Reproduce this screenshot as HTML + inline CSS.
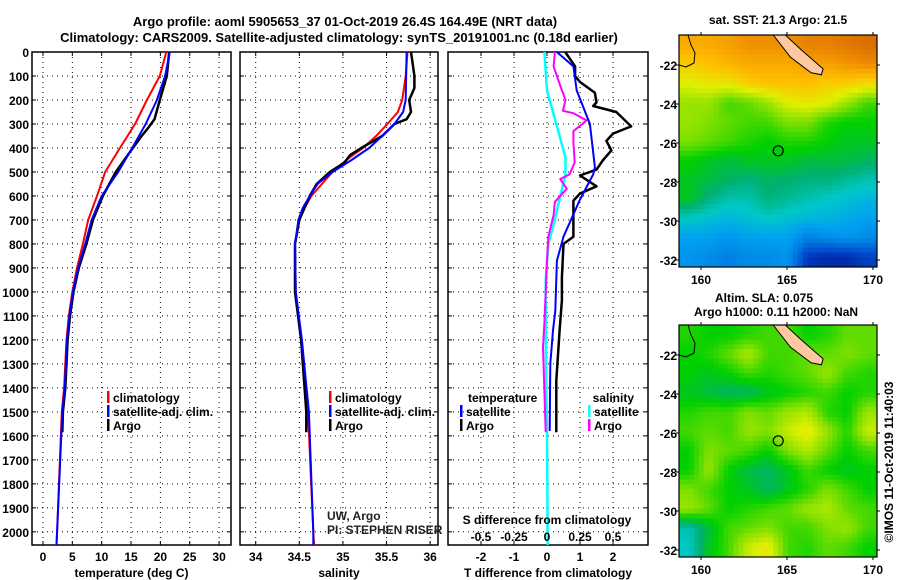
<!DOCTYPE html>
<html><head><meta charset="utf-8"><style>
html,body{margin:0;padding:0;background:#fff;}
svg{display:block;font-family:"Liberation Sans",Arial,sans-serif;}
.b{font-weight:bold;font-size:13px;}
.t{font-weight:bold;font-size:12px;}
</style></head><body>
<svg id="fig" width="900" height="580" viewBox="0 0 900 580" xmlns="http://www.w3.org/2000/svg">
<text class="b" x="345" y="26" text-anchor="middle">Argo profile: aoml 5905653_37 01-Oct-2019 26.4S 164.49E (NRT data)</text>
<text class="b" x="339" y="42" text-anchor="middle">Climatology: CARS2009. Satellite-adjusted climatology: synTS_20191001.nc (0.18d earlier)</text>
<g id="layer"></g>
</svg>
<script>
// ---------- data ----------
const tClimDepth = [0,100,200,300,400,500,600,700,800,900,1000,1100,1200,1400,1500,2000,2055];
const tClimVal   = [21.0,19.9,17.7,15.7,13.1,10.6,9.2,7.7,6.8,5.8,5.0,4.4,4.0,3.6,3.2,2.4,2.3];
const tSatDepth  = [0,100,200,300,400,500,600,700,800,900,1000,1100,1200,1400,1500,2000,2055];
const tSatVal    = [21.6,20.8,19.4,17.5,15.2,12.8,10.0,8.3,7.2,6.0,5.1,4.5,4.1,3.7,3.3,2.4,2.3];
const tArgoDepth = [0,100,200,280,320,350,400,500,600,700,800,900,1000,1100,1200,1400,1500,1585];
const tArgoVal   = [21.5,21.1,19.9,19.0,17.8,16.8,15.3,12.4,10.2,8.5,7.4,6.1,5.2,4.6,4.2,3.8,3.4,3.3];

const sClimDepth = [0,100,200,250,300,350,400,450,500,550,600,650,700,800,1000,1200,1500,2000,2055];
const sClimVal   = [35.74,35.72,35.68,35.63,35.51,35.38,35.23,35.04,34.88,34.76,34.64,34.56,34.50,34.45,34.46,34.52,34.60,34.66,34.67];
const sSatDepth  = [0,200,250,300,350,400,450,500,550,600,650,700,800,1000,1200,1500,2000,2055];
const sSatVal    = [35.73,35.72,35.69,35.59,35.45,35.30,35.10,34.88,34.71,34.62,34.54,34.49,34.45,34.46,34.53,34.61,34.66,34.66];
const sArgoDepth = [0,100,150,200,250,280,300,350,400,430,460,500,550,600,700,800,1000,1200,1500,1585];
const sArgoVal   = [35.78,35.82,35.82,35.76,35.78,35.73,35.59,35.45,35.21,35.08,35.02,34.85,34.70,34.62,34.50,34.45,34.45,34.52,34.58,34.58];

const dTSatDepth = [0,60,160,300,480,510,615,770,870,1080,1160,1300,1580];
const dTSatVal   = [0.3,0.8,0.9,1.3,1.45,1.4,1.0,0.5,0.3,0.25,0.18,0.1,0.08];
const dTArgoDepth= [0,60,100,125,170,210,225,250,310,340,370,410,450,490,515,560,590,620,700,770,800,940,1035,1160,1370,1585];
const dTArgoVal  = [0.55,0.85,0.85,1.0,1.45,1.5,1.4,2.1,2.55,2.0,1.8,1.95,1.7,1.5,1.0,1.5,1.0,0.8,0.8,0.8,0.5,0.45,0.45,0.38,0.28,0.28];
const dSArgoDepth= [0,60,140,200,245,255,285,330,375,460,510,530,570,625,680,770,870,1130,1230,1585];
const dSArgoVal  = [0.06,0.05,0.1,0.14,0.12,0.2,0.3,0.2,0.2,0.21,0.17,0.1,0.15,0.06,0.05,0.01,0.0,-0.02,-0.03,-0.01];
const dSSatDepth = [0,160,300,440,510,580,720,800,950,1200,1600,2055];
const dSSatVal   = [-0.02,0.0,0.07,0.14,0.14,0.11,0.05,0.01,-0.01,-0.01,0.0,0.005];

const tTicks=[0,5,10,15,20,25,30];
const sTicks=[34,34.5,35,35.5,36];
const dTTicks=[-2,-1,0,1,2];
const dSTicks=[-0.5,-0.25,0,0.25,0.5];
const dSTickLabels=['-0.5','-0.25','0','0.25','0.5'];
const depthTicks=[0,100,200,300,400,500,600,700,800,900,1000,1100,1200,1300,1400,1500,1600,1700,1800,1900,2000];

const sstGrid=[
[.80,.80,.82,.85,.85,.85,.88,.88,.90,.92],
[.74,.76,.78,.80,.80,.80,.82,.82,.84,.86],
[.68,.70,.70,.74,.76,.76,.76,.74,.74,.72],
[.62,.62,.56,.58,.62,.68,.70,.68,.62,.56],
[.62,.60,.58,.56,.56,.60,.60,.54,.52,.52],
[.60,.58,.56,.54,.52,.54,.54,.52,.50,.50],
[.52,.50,.48,.50,.50,.50,.48,.48,.48,.46],
[.50,.48,.46,.44,.46,.45,.44,.44,.42,.40],
[.50,.44,.40,.40,.44,.42,.40,.38,.36,.34],
[.38,.36,.34,.36,.38,.36,.34,.34,.32,.30],
[.30,.30,.28,.30,.30,.30,.24,.26,.28,.26],
[.28,.26,.24,.26,.26,.28,.10,.08,.08,.12]];
const slaGrid=[
[.54,.52,.52,.54,.56,.56,.52,.54,.58,.58],
[.52,.54,.58,.64,.56,.56,.58,.58,.60,.58],
[.52,.50,.52,.56,.54,.56,.58,.62,.56,.54],
[.50,.48,.46,.46,.50,.52,.54,.56,.52,.54],
[.54,.56,.56,.60,.58,.62,.64,.54,.52,.62],
[.56,.58,.56,.62,.60,.66,.70,.62,.54,.66],
[.52,.60,.58,.56,.52,.60,.64,.58,.52,.56],
[.52,.62,.52,.48,.46,.50,.56,.52,.50,.52],
[.60,.56,.52,.50,.46,.50,.54,.60,.56,.52],
[.62,.58,.52,.54,.56,.58,.62,.64,.58,.56],
[.40,.48,.56,.58,.60,.56,.56,.60,.62,.56],
[.38,.50,.56,.66,.70,.56,.54,.58,.56,.52]];
const lonTicks=[160,165,170];
const latTicks=[-22,-24,-26,-28,-30,-32];

// ---------- helpers ----------
const NS='http://www.w3.org/2000/svg';
const L=document.getElementById('layer');
function mk(tag,attrs,parent){const e=document.createElementNS(NS,tag);for(const k in attrs)e.setAttribute(k,attrs[k]);(parent||L).appendChild(e);return e;}
function txt(s,x,y,cls,anchor,parent){const e=mk('text',{x:x,y:y,'class':cls||'t','text-anchor':anchor||'start'},parent);e.textContent=s;return e;}

const Y0=52,Y1=545,D0=0,D1=2055;
function yD(d){return Y0+(d-D0)/(D1-D0)*(Y1-Y0);}
const P1={x0:32,x1:231,v0:-1.87,v1:32.03};
const P2={x0:240,x1:438,v0:33.82,v1:36.09};
const P3={x0:448,x1:648,v0:-3.0,v1:3.06};
function sx(p,v){return p.x0+(v-p.v0)/(p.v1-p.v0)*(p.x1-p.x0);}
function sxS(v){return sx(P3,v*4);}

function frame(p,name,ticks,labels,xt){
  const g=mk('g',{});
  
  
  ticks.forEach(v=>{const x=sx(p,v);mk('line',{x1:x,x2:x,y1:Y0,y2:Y1,stroke:'#000','stroke-width':1,'stroke-dasharray':'1,4'},g);
    mk('line',{x1:x,x2:x,y1:Y1,y2:Y1-4,stroke:'#000'},g);mk('line',{x1:x,x2:x,y1:Y0,y2:Y0+4,stroke:'#000'},g);});
  depthTicks.forEach(d=>{const y=yD(d);mk('line',{x1:p.x0,x2:p.x1,y1:y,y2:y,stroke:'#000','stroke-width':1,'stroke-dasharray':'1,4'},g);
    mk('line',{x1:p.x0,x2:p.x0+4,y1:y,y2:y,stroke:'#000'},g);mk('line',{x1:p.x1-4,x2:p.x1,y1:y,y2:y,stroke:'#000'},g);});
  mk('rect',{x:p.x0,y:Y0,width:p.x1-p.x0,height:Y1-Y0,fill:'none',stroke:'#000','stroke-width':1.5},g);
  labels.forEach((s,i)=>{const t=txt(s,sx(p,ticks[i]),561,'t','middle',g);});
  const tt=txt(xt,(p.x0+p.x1)/2,577,'t','middle',g);
  
  
  return g;
}
function line(p,ds,vs,color,w,name,fx){
  const pts=ds.map((d,i)=>(fx?fx(vs[i]):sx(p,vs[i])).toFixed(1)+','+yD(d).toFixed(1)).join(' ');
  const e=mk('polyline',{points:pts,fill:'none',stroke:color,'stroke-width':w,'stroke-linejoin':'round'});
  
  
}
function legend(x,y,color,label,name){
  const g=mk('g',{});
  
  
  mk('rect',{x:x,y:y-6,width:2.5,height:12,fill:color},g);
  txt(label,x+6,y+5,'t','start',g);
}

// panel 1
frame(P1,'temperature-panel',tTicks,tTicks.map(String),'temperature (deg C)');
depthTicks.forEach(d=>{const t=txt(String(d),29,yD(d)+5,'t','end');});
line(P1,tClimDepth,tClimVal,'#ff0000',2,'temperature-climatology-line');
line(P1,tArgoDepth,tArgoVal,'#000',2.5,'temperature-argo-line');
line(P1,tSatDepth,tSatVal,'#0000ff',2,'temperature-satellite-line');
legend(107,397,'#ff0000','climatology','legend-climatology');
legend(107,411,'#0000ff','satellite-adj. clim.','legend-satellite-adj');
legend(107,425,'#000','Argo','legend-argo');

// panel 2
frame(P2,'salinity-panel',sTicks,['34','34.5','35','35.5','36'],'salinity');
line(P2,sClimDepth,sClimVal,'#ff0000',2,'salinity-climatology-line');
line(P2,sArgoDepth,sArgoVal,'#000',2.5,'salinity-argo-line');
line(P2,sSatDepth,sSatVal,'#0000ff',2,'salinity-satellite-line');
legend(329,397,'#ff0000','climatology','legend-climatology-s');
legend(329,411,'#0000ff','satellite-adj. clim.','legend-satellite-adj-s');
legend(329,425,'#000','Argo','legend-argo-s');
{const a=txt('UW, Argo',327,520,'','start');a.setAttribute('style','font-size:12px;fill:#222');
 const b=txt('PI: STEPHEN RISER',327,534,'','start');b.setAttribute('style','font-size:12px;fill:#222');}

// panel 3
frame(P3,'difference-panel',dTTicks,dTTicks.map(String),'T difference from climatology');
line(P3,dSSatDepth,dSSatVal,'#00ffff',2.5,'salinity-satellite-diff-line',sxS);
line(P3,dSArgoDepth,dSArgoVal,'#ff00ff',2,'salinity-argo-diff-line',sxS);
line(P3,dTArgoDepth,dTArgoVal,'#000',2.5,'temperature-argo-diff-line');
line(P3,dTSatDepth,dTSatVal,'#0000ff',2,'temperature-satellite-diff-line');
dSTicks.forEach((v,i)=>{const t=txt(dSTickLabels[i],sxS(v),541,'t','middle');});
{const t=txt('S difference from climatology',547,524,'t','middle');}
{const t=txt('temperature',468,402,'t','start');
 const s=txt('salinity',634,402,'t','end');}
legend(460,411,'#0000ff','satellite','legend-t-satellite');
legend(460,425,'#000','Argo','legend-t-argo');
legend(588,411,'#00ffff','satellite','legend-s-satellite');
legend(588,425,'#ff00ff','Argo','legend-s-argo');

// ---------- maps ----------
const cstops=[[0,[0,0,127]],[0.15,[0,80,208]],[0.3,[0,160,240]],[0.38,[0,200,200]],[0.45,[0,176,112]],[0.52,[0,208,0]],[0.6,[128,224,0]],[0.68,[224,240,0]],[0.76,[255,192,0]],[0.85,[240,144,0]],[0.95,[208,96,0]],[1,[200,80,0]]];
function cmap(v){for(let i=1;i<cstops.length;i++){if(v<=cstops[i][0]){const a=cstops[i-1],b=cstops[i],t=(v-a[0])/(b[0]-a[0]);return 'rgb('+a[1].map((c,k)=>Math.round(c+(b[1][k]-c)*t)).join(',')+')';}}return 'rgb(200,80,0)';}
function sample(grid,fy,fx){ // bilinear sampling of grid for rendering
  const R=grid.length,C=grid[0].length;
  let y=fy*R-0.5,x=fx*C-0.5;y=Math.max(0,Math.min(R-1,y));x=Math.max(0,Math.min(C-1,x));
  const i=Math.floor(y),j=Math.floor(x),i2=Math.min(R-1,i+1),j2=Math.min(C-1,j+1),ty=y-i,tx=x-j;
  return grid[i][j]*(1-ty)*(1-tx)+grid[i][j2]*(1-ty)*tx+grid[i2][j]*ty*(1-tx)+grid[i2][j2]*ty*tx;
}
function drawMap(grid,top,bottom,name){
  const x0=679,x1=877;
  const g=mk('g',{});
  
  
  const NR=48,NC=40,cw=(x1-x0)/NC,ch=(bottom-top)/NR;
  for(let i=0;i<NR;i++)for(let j=0;j<NC;j++){
    mk('rect',{x:(x0+j*cw).toFixed(2),y:(top+i*ch).toFixed(2),width:(cw+0.4).toFixed(2),height:(ch+0.4).toFixed(2),fill:cmap(sample(grid,(i+0.5)/NR,(j+0.5)/NC))},g);}
  const lonX=l=>701+(l-160)*17.2, latY=l=>top+30+(-22-l)*19.5;
  mk('path',{d:`M${lonX(164.2)},${top} L${lonX(164.9)},${top} L${lonX(165.8)},${latY(-21.2)} L${lonX(167.1)},${latY(-22.2)} L${lonX(167.0)},${latY(-22.5)} L${lonX(166.4)},${latY(-22.4)} L${lonX(165.2)},${latY(-21.6)} Z`,fill:'#ffc8a0',stroke:'#000','stroke-width':1},g);
  mk('path',{d:`M${x0+9},${top} L${x0+12},${top+10} L${x0+16},${top+18} L${x0+15},${top+28} L${x0+7},${top+32} L${x0},${top+30}`,fill:'none',stroke:'#000','stroke-width':1},g);
  const c=mk('circle',{cx:lonX(164.49),cy:latY(-26.4),r:5,fill:'none',stroke:'#000','stroke-width':1.2},g);
  
  
  mk('rect',{x:x0,y:top,width:x1-x0,height:bottom-top,fill:'none',stroke:'#000','stroke-width':1.2},g);
  lonTicks.forEach(l=>{const x=lonX(l);mk('line',{x1:x,x2:x,y1:bottom,y2:bottom+3,stroke:'#000'},g);mk('line',{x1:x,x2:x,y1:top,y2:top-3,stroke:'#000'},g);
    txt(String(l),x,bottom+17,'t','middle',g);});
  latTicks.forEach(l=>{const y=latY(l);mk('line',{x1:x1,x2:x1+3,y1:y,y2:y,stroke:'#000'},g);mk('line',{x1:x0-3,x2:x0,y1:y,y2:y,stroke:'#000'},g);
    txt(String(l),x0-2,y+5,'t','end',g);});
}
drawMap(sstGrid,35,267,'sst-map');
drawMap(slaGrid,325,557,'sla-map');
{const t=txt('sat. SST: 21.3 Argo: 21.5',778,24,'t','middle');
 const a=txt('Altim. SLA: 0.075',764,302,'t','middle');
 const b=txt('Argo h1000: 0.11 h2000: NaN',776,316,'t','middle');
 const c=txt('©IMOS 11-Oct-2019 11:40:03',0,0,'','middle');c.setAttribute('style','font-size:12px');c.setAttribute('transform','translate(893,462) rotate(-90)');
 }
</script>
</body></html>
